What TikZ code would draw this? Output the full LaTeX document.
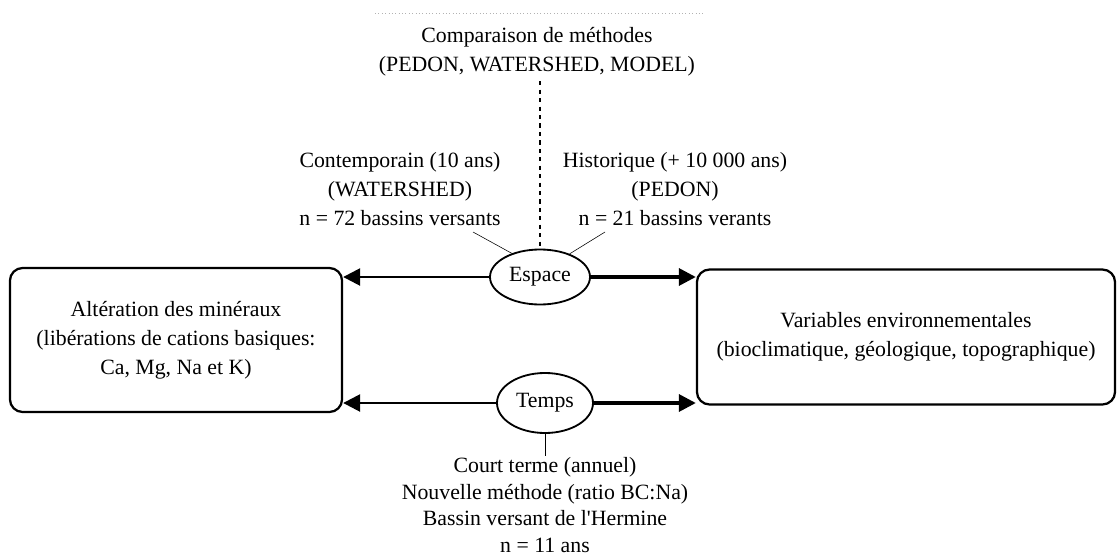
\documentclass[tikz,border=0pt]{standalone}
\usepackage{fontspec}
\setmainfont{Liberation Serif}
\usetikzlibrary{arrows.meta,shapes}

\begin{document}
\begin{tikzpicture}[x=0.025cm,y=-0.025cm,
  txt/.style={align=center,font=\fontsize{15.5}{20.5}\selectfont},
  box/.style={draw,line width=1.6pt,rounded corners=9pt,txt},
  oval/.style={draw,ellipse,line width=1.3pt,inner sep=1pt,txt},
  link/.style={-{Triangle[length=12pt,width=12pt]}}]
\useasboundingbox (0,0) rectangle (1120,559);
\draw[gray!60,dotted] (375,13) -- (705,13);
\node[txt] (meth) at (537,52) {Comparaison de méthodes\\(PEDON, WATERSHED, MODEL)};
\node[txt] (cont) at (400,189) {Contemporain (10 ans)\\(WATERSHED)\\n = 72 bassins versants};
\node[txt] (hist) at (675,189) {Historique (+ 10 000 ans)\\(PEDON)\\n = 21 bassins verants};
\node[oval,minimum width=2.5cm,minimum height=1.375cm] (esp) at (540,277) {Espace};
\node[oval,minimum width=2.4cm,minimum height=1.5cm] (tmp) at (545,403) {Temps};
\node[box,minimum width=8.3cm,minimum height=3.6cm] (alt) at (176,340) {Altération des minéraux\\(libérations de cations basiques:\\Ca, Mg, Na et K)};
\node[box,minimum width=10.45cm,minimum height=3.375cm] (var) at (906,337) {Variables environnementales\\(bioclimatique, géologique, topographique)};
\node[txt,inner sep=1pt,font=\fontsize{15.5}{19}\selectfont] (court) at (545,505) {Court terme (annuel)\\Nouvelle méthode (ratio BC:Na)\\Bassin versant de l\textquotesingle Hermine\\n = 11 ans};
\coordinate (c1) at (473,232);
\coordinate (h1) at (605,232);
\draw[dash pattern=on 3pt off 3pt,line width=.8pt] (esp.north |- meth.south) -- (esp.north);
\draw (c1) -- (esp.140);
\draw (h1) -- (esp.38);
\draw[link,line width=1.8pt] (esp.west) -- (esp.west -| alt.east);
\draw[link,line width=2.4pt] (esp.east) -- (esp.east -| var.west);
\draw[link,line width=1.8pt] (tmp.west) -- (tmp.west -| alt.east);
\draw[link,line width=2.4pt] (tmp.east) -- (tmp.east -| var.west);
\draw (tmp.south) -- (court.north);
\end{tikzpicture}
\end{document}
